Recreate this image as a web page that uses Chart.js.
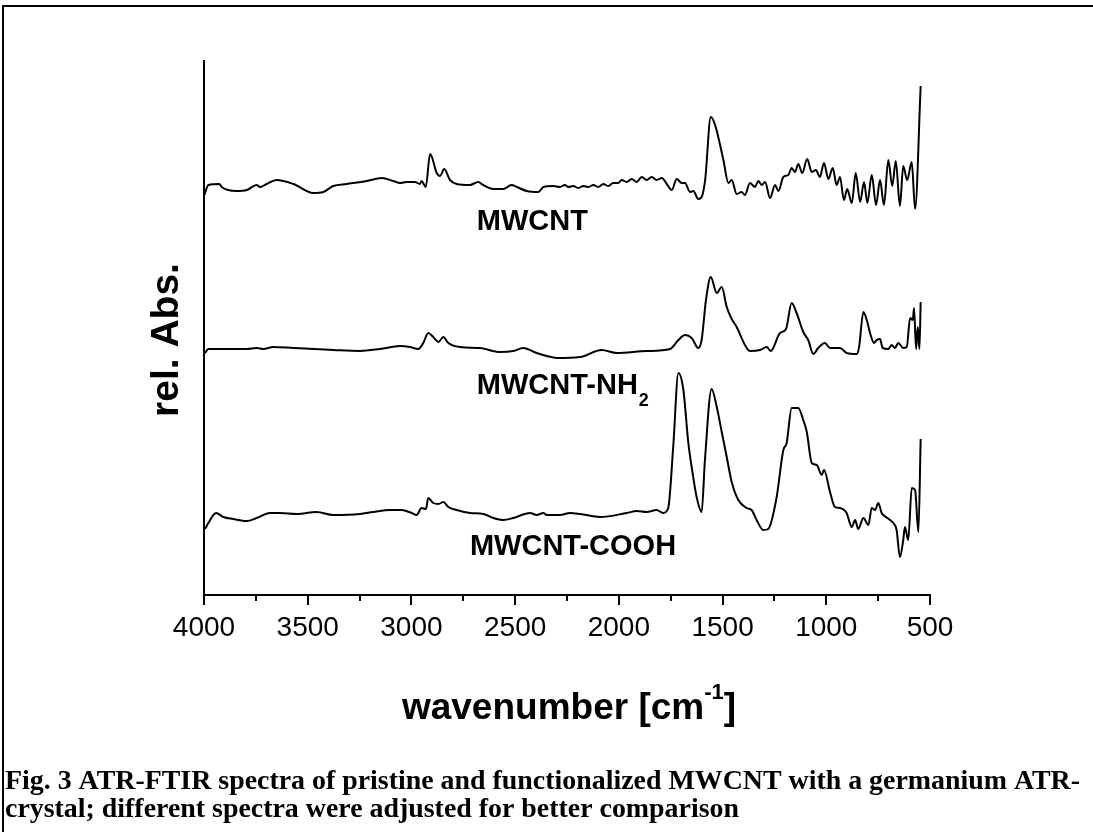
<!DOCTYPE html>
<html>
<head>
<meta charset="utf-8">
<script src="https://cdn.jsdelivr.net/npm/chart.js"></script>
<style>
  html, body { margin: 0; padding: 0; background: #fff; }
  #wrap { width: 1093px; height: 832px; }
</style>
</head>
<body>
<div id="wrap"><canvas id="chart" width="1093" height="832"></canvas></div>
<script>
// x tick labels (wavenumber, cm-1)
const xTicks = [4000, 3500, 3000, 2500, 2000, 1500, 1000, 500];
const seriesNames = ["MWCNT", "MWCNT-NH2", "MWCNT-COOH"];

// MWCNT
const wnMWCNT = [3998, 3979, 3926, 3915, 3842, 3794, 3746, 3730, 3698, 3650, 3569, 3473, 3425, 3377, 3312, 3216, 3143, 3087, 3055, 3023, 2983, 2959, 2951, 2931, 2910, 2878, 2862, 2842, 2814, 2782, 2718, 2678, 2654, 2605, 2557, 2517, 2492, 2444, 2388, 2364, 2316, 2284, 2260, 2244, 2220, 2196, 2171, 2147, 2123, 2099, 2075, 2051, 2027, 2003, 1986, 1962, 1938, 1914, 1890, 1866, 1842, 1818, 1793, 1769, 1745, 1721, 1697, 1681, 1657, 1641, 1617, 1601, 1584, 1557, 1536, 1496, 1472, 1456, 1432, 1408, 1392, 1368, 1344, 1328, 1311, 1295, 1271, 1247, 1231, 1207, 1183, 1167, 1151, 1135, 1116, 1092, 1070, 1050, 1031, 1011, 990, 969, 950, 934, 915, 899, 877, 858, 837, 818, 802, 781, 760, 741, 722, 701, 682, 665, 645, 629, 610, 588, 572, 545];
const absMWCNT = [4.00, 4.10, 4.11, 4.08, 4.04, 4.05, 4.10, 4.08, 4.11, 4.15, 4.11, 4.02, 4.03, 4.09, 4.11, 4.14, 4.17, 4.14, 4.12, 4.13, 4.13, 4.11, 4.14, 4.08, 4.41, 4.22, 4.19, 4.26, 4.15, 4.11, 4.10, 4.13, 4.10, 4.06, 4.06, 4.10, 4.08, 4.04, 4.03, 4.08, 4.09, 4.08, 4.10, 4.08, 4.09, 4.07, 4.09, 4.08, 4.10, 4.08, 4.11, 4.09, 4.12, 4.12, 4.15, 4.13, 4.16, 4.13, 4.18, 4.15, 4.18, 4.15, 4.17, 4.11, 4.05, 4.16, 4.12, 4.12, 4.03, 4.04, 3.96, 3.98, 4.15, 4.78, 4.70, 4.35, 4.12, 4.15, 4.01, 4.03, 4.00, 4.12, 4.08, 4.14, 4.10, 4.13, 3.97, 4.10, 4.04, 4.18, 4.20, 4.27, 4.23, 4.31, 4.22, 4.36, 4.23, 4.25, 4.18, 4.32, 4.16, 4.27, 4.10, 4.18, 3.95, 4.06, 3.92, 4.22, 3.93, 4.13, 3.92, 4.20, 3.90, 4.15, 3.90, 4.35, 4.09, 4.34, 3.89, 4.29, 4.15, 4.33, 3.86, 5.09];

// MWCNT-NH2
const wnNH2 = [3995, 3979, 3907, 3794, 3746, 3714, 3666, 3569, 3473, 3377, 3248, 3152, 3055, 3007, 2967, 2943, 2919, 2895, 2870, 2846, 2822, 2766, 2669, 2573, 2509, 2461, 2396, 2348, 2300, 2187, 2083, 2010, 1866, 1753, 1713, 1681, 1649, 1617, 1601, 1580, 1557, 1528, 1504, 1480, 1456, 1432, 1392, 1368, 1320, 1287, 1268, 1223, 1194, 1167, 1143, 1111, 1087, 1063, 1039, 1007, 982, 934, 902, 853, 842, 821, 805, 789, 770, 757, 741, 728, 701, 685, 669, 653, 629, 612, 596, 583, 577, 567, 559, 551, 545];
const absNH2 = [2.42, 2.46, 2.46, 2.46, 2.47, 2.46, 2.48, 2.47, 2.46, 2.45, 2.44, 2.46, 2.49, 2.48, 2.46, 2.52, 2.62, 2.58, 2.53, 2.58, 2.52, 2.48, 2.47, 2.43, 2.44, 2.47, 2.42, 2.39, 2.37, 2.38, 2.45, 2.42, 2.44, 2.46, 2.55, 2.60, 2.57, 2.47, 2.55, 2.95, 3.18, 3.02, 3.08, 2.88, 2.76, 2.68, 2.50, 2.44, 2.45, 2.48, 2.44, 2.62, 2.66, 2.92, 2.82, 2.63, 2.55, 2.41, 2.47, 2.52, 2.47, 2.47, 2.42, 2.41, 2.48, 2.83, 2.75, 2.62, 2.52, 2.55, 2.56, 2.47, 2.46, 2.50, 2.47, 2.52, 2.47, 2.48, 2.77, 2.75, 2.87, 2.46, 2.68, 2.46, 2.93];

// MWCNT-COOH
const wnCOOH = [3995, 3979, 3942, 3907, 3859, 3794, 3746, 3682, 3634, 3553, 3457, 3377, 3248, 3184, 3103, 3047, 2999, 2975, 2951, 2930, 2919, 2895, 2870, 2846, 2822, 2782, 2718, 2653, 2605, 2557, 2509, 2428, 2396, 2364, 2348, 2284, 2236, 2187, 2091, 1962, 1914, 1866, 1818, 1786, 1762, 1738, 1713, 1689, 1665, 1649, 1625, 1601, 1585, 1553, 1528, 1504, 1480, 1456, 1424, 1384, 1360, 1336, 1304, 1280, 1240, 1207, 1191, 1167, 1135, 1111, 1094, 1070, 1046, 1022, 1011, 982, 958, 934, 902, 877, 861, 846, 821, 797, 781, 765, 749, 733, 712, 693, 677, 661, 645, 629, 621, 605, 588, 572, 556, 545];
const absCOOH = [0.66, 0.72, 0.82, 0.78, 0.76, 0.74, 0.77, 0.82, 0.82, 0.81, 0.83, 0.80, 0.81, 0.83, 0.85, 0.85, 0.82, 0.80, 0.87, 0.86, 0.97, 0.92, 0.91, 0.93, 0.88, 0.85, 0.82, 0.81, 0.77, 0.75, 0.77, 0.82, 0.80, 0.82, 0.80, 0.80, 0.82, 0.81, 0.78, 0.82, 0.84, 0.83, 0.85, 0.82, 0.87, 1.48, 2.22, 2.05, 1.52, 1.28, 0.98, 0.83, 1.35, 2.06, 1.88, 1.63, 1.38, 1.13, 0.95, 0.87, 0.85, 0.75, 0.65, 0.66, 0.97, 1.45, 1.52, 1.87, 1.87, 1.75, 1.63, 1.32, 1.30, 1.20, 1.25, 1.03, 0.88, 0.87, 0.82, 0.68, 0.75, 0.66, 0.77, 0.70, 0.87, 0.85, 0.92, 0.82, 0.78, 0.75, 0.72, 0.65, 0.38, 0.55, 0.68, 0.55, 1.07, 1.05, 0.63, 1.56];

const sans = '"Liberation Sans", Arial, sans-serif';
const serif = '"Liberation Serif", "Times New Roman", serif';

function pts(wn, ys) {
  return wn.map((w, i) => ({ x: w, y: ys[i] }));
}

function line(data) {
  return {
    data: data,
    borderColor: '#000',
    borderWidth: 2,
    pointRadius: 0,
    fill: false,
    cubicInterpolationMode: 'monotone'
  };
}

// extra drawing: frame, minor ticks, labels, caption
const decor = {
  id: 'decor',
  afterDraw(chart) {
    const c = chart.ctx;
    const xs = chart.scales.x, ys = chart.scales.y;
    c.save();
    c.fillStyle = '#000';
    c.strokeStyle = '#000';

    // frame (top + left visible)
    c.lineWidth = 2;
    c.beginPath();
    c.moveTo(3, 840);
    c.lineTo(3, 6);
    c.lineTo(1100, 6);
    c.stroke();

    // minor ticks
    for (let v = 750; v < 4000; v += 500) {
      const px = Math.round(xs.getPixelForValue(v));
      c.beginPath();
      c.moveTo(px, chart.chartArea.bottom);
      c.lineTo(px, chart.chartArea.bottom + 6);
      c.stroke();
    }

    // curve labels
    c.textBaseline = 'alphabetic';
    c.textAlign = 'left';
    c.font = 'bold 29px ' + sans;
    c.fillText(seriesNames[0], xs.getPixelForValue(2685), ys.getPixelForValue(3.65));
    let x0 = xs.getPixelForValue(2685), y0 = ys.getPixelForValue(2.01);
    c.fillText('MWCNT-NH', x0, y0);
    const w = c.measureText('MWCNT-NH').width;
    c.font = 'bold 18px ' + sans;
    c.fillText('2', x0 + w + 1, y0 + 12);
    c.font = 'bold 29px ' + sans;
    c.fillText(seriesNames[2], xs.getPixelForValue(2718), ys.getPixelForValue(0.40));

    // y title
    c.save();
    c.translate(178, 340);
    c.rotate(-Math.PI / 2);
    c.textAlign = 'center';
    c.font = 'bold 39px ' + sans;
    c.fillText('rel. Abs.', 0, 0);
    c.restore();

    // x title with superscript
    c.font = 'bold 37px ' + sans;
    const a = 'wavenumber [cm';
    const wa = c.measureText(a).width;
    const wb = c.measureText(']').width;
    c.font = 'bold 22px ' + sans;
    const sup = '-1';
    const ws = c.measureText(sup).width;
    const total = wa + ws + wb;
    let sx = 569 - total / 2;
    c.font = 'bold 37px ' + sans;
    c.fillText(a, sx, 719);
    c.font = 'bold 22px ' + sans;
    c.fillText(sup, sx + wa, 699);
    c.font = 'bold 37px ' + sans;
    c.fillText(']', sx + wa + ws, 719);

    // caption, first line fitted to the frame width
    const cap1 = 'Fig. 3 ATR-FTIR spectra of pristine and functionalized MWCNT with a germanium ATR-';
    const cap2 = 'crystal; different spectra were adjusted for better comparison';
    c.font = 'bold 20px ' + serif;
    const size = 20 * 1077 / c.measureText(cap1).width;
    c.font = 'bold ' + size.toFixed(1) + 'px ' + serif;
    c.fillText(cap1, 5, 789);
    c.fillText(cap2, 5, 817);
    c.restore();
  }
};

new Chart(document.getElementById('chart'), {
  type: 'line',
  data: {
    datasets: [
      line(pts(wnMWCNT, absMWCNT)),
      line(pts(wnNH2, absNH2)),
      line(pts(wnCOOH, absCOOH))
    ]
  },
  options: {
    responsive: false,
    animation: false,
    layout: { padding: { left: 0, top: 61, right: 163, bottom: 0 } },
    plugins: {
      legend: { display: false },
      tooltip: { enabled: false }
    },
    scales: {
      x: {
        type: 'linear',
        reverse: true,
        min: 500,
        max: 4000,
        afterFit(s) { s.height = 237; },
        afterBuildTicks(s) { s.ticks = xTicks.map(v => ({ value: v })); },
        border: { color: '#000', width: 2 },
        grid: { drawOnChartArea: false, drawTicks: true, tickLength: 10, color: '#000', lineWidth: 2 },
        ticks: {
          autoSkip: false,
          maxRotation: 0,
          color: '#000',
          padding: 6,
          font: { family: sans, size: 28 },
          callback: v => String(v)
        }
      },
      y: {
        min: 0,
        max: 5.34,
        afterFit(s) { s.width = 204; },
        border: { color: '#000', width: 2 },
        grid: { display: false },
        ticks: { display: false }
      }
    }
  },
  plugins: [decor]
});
</script>
</body>
</html>
